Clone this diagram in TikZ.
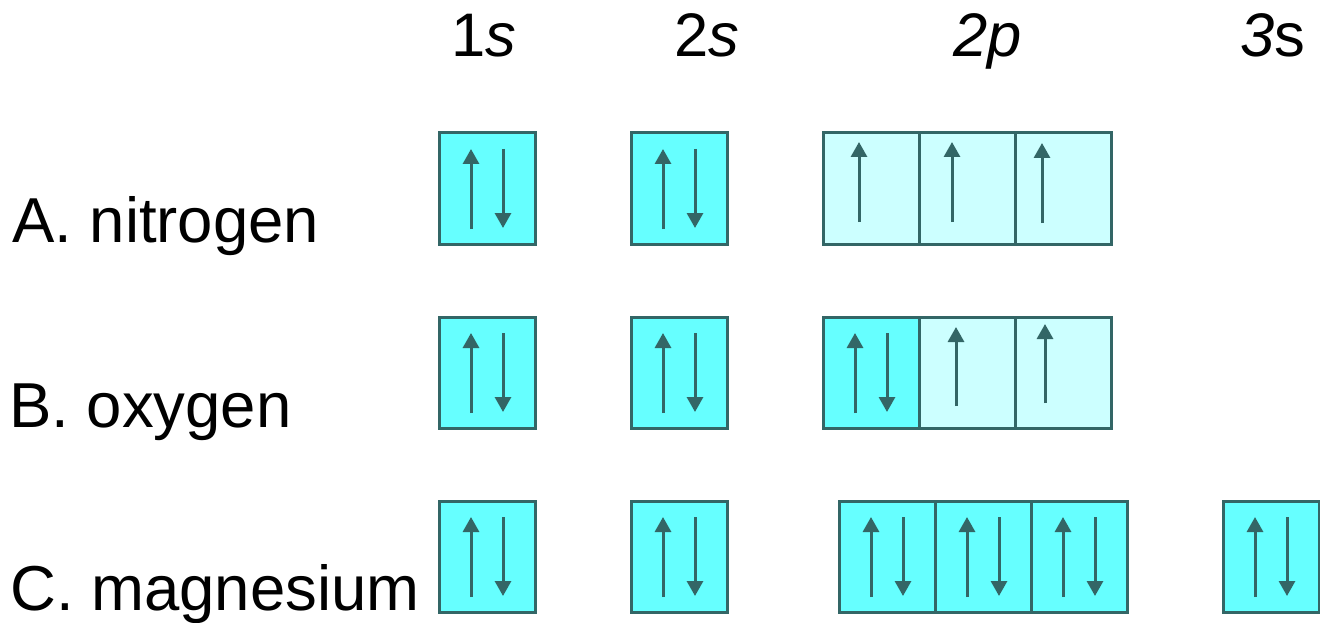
\documentclass[tikz,border=0pt]{standalone}
\usepackage{fontspec}
\setmainfont{Liberation Sans}
\usetikzlibrary{arrows.meta}
\definecolor{orbfull}{HTML}{66FFFF}
\definecolor{orbhalf}{HTML}{CCFFFF}
\definecolor{orbline}{HTML}{336666}
\tikzset{
  orb/.style={draw=orbline, line width=3pt, minimum width=96pt, minimum height=111pt,
    inner sep=0pt, outer sep=0pt},
  full/.style={orb, fill=orbfull},
  half/.style={orb, fill=orbhalf},
  spin/.style={draw=orbline, line width=3pt, -{Triangle[width=16pt,length=15pt]}},
  element/.style={anchor=base west, inner sep=0pt, font=\fontsize{63.5}{68}\selectfont},
  shell/.style={anchor=base west, inner sep=0pt, font=\fontsize{61.5}{64}\selectfont},
}
% paired electrons (up and down) in one orbital box
\newcommand\duo[1]{%
  \draw[spin] ([shift={(32,-15)}]#1.south west) -- ([shift={(32,16)}]#1.north west);
  \draw[spin] ([shift={(64,16)}]#1.north west) -- ([shift={(64,-16)}]#1.south west);}
% single electron: box, x offset, gap at top, gap at bottom
\newcommand\solo[4]{%
  \draw[spin] ([shift={(#2,-#4)}]#1.south west) -- ([shift={(#2,#3)}]#1.north west);}
\begin{document}
\begin{tikzpicture}[x=1pt,y=-1pt]
\useasboundingbox (0,0) rectangle (1320,623);

% subshell headings
\node[shell] (h1s) at (451,57) {1\textit{s}};
\node[shell] (h2s) at (674,57) {2\textit{s}};
\node[shell] (h2p) at (953,57) {\textit{2p}};
\node[shell] (h3s) at (1240,57) {\textit{3}s};

% element names
\node[element] (na) at (12,242) {A. nitrogen};
\node[element] (nb) at (9,427) {B. oxygen};
\node[element] (nc) at (10,610) {C. magnesium};

% nitrogen
\node[full] (a1) at (487,188.5) {};
\node[full] (a2) at (679,188.5) {};
\node[half] (a3) at (871,188.5) {};
\node[half] (a4) at (967,188.5) {};
\node[half] (a5) at (1063,188.5) {};
\duo{a1} \duo{a2}
\solo{a3}{36}{9}{22}
\solo{a4}{33}{9}{22}
\solo{a5}{27}{10}{21}

% oxygen
\node[full] (b1) at (487,372.5) {};
\node[full] (b2) at (679,372.5) {};
\node[full] (b3) at (871,372.5) {};
\node[half] (b4) at (967,372.5) {};
\node[half] (b5) at (1063,372.5) {};
\duo{b1} \duo{b2} \duo{b3}
\solo{b4}{37}{10}{22}
\solo{b5}{30}{7}{25}

% magnesium
\node[full] (c1) at (487,556.5) {};
\node[full] (c2) at (679,556.5) {};
\node[full] (c3) at (887,556.5) {};
\node[full] (c4) at (983,556.5) {};
\node[full] (c5) at (1079,556.5) {};
\node[full] (c6) at (1271,556.5) {};
\duo{c1} \duo{c2} \duo{c3} \duo{c4} \duo{c5} \duo{c6}
\end{tikzpicture}
\end{document}
